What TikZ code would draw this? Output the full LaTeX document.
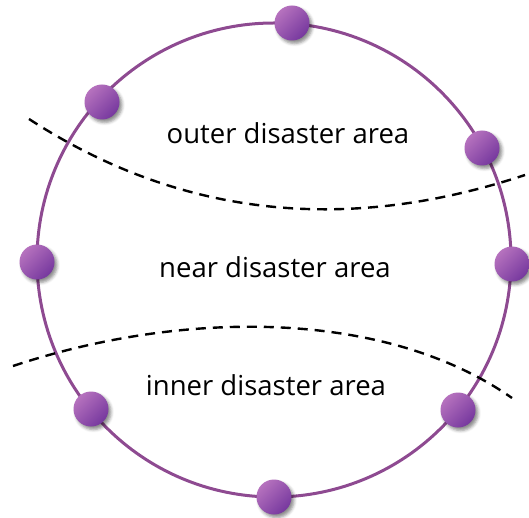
\documentclass[tikz,border=0pt]{standalone}
\usepackage{fontspec}
\setmainfont{Open Sans}
\usetikzlibrary{shadows.blur}
\definecolor{ring}{RGB}{142,74,145}
\definecolor{ballL}{RGB}{182,114,190}
\definecolor{ballD}{RGB}{118,56,158}
\tikzset{
  ringline/.style={draw=ring, line width=3pt},
  border/.style={black, line width=2.4pt, dash pattern=on 10pt off 7pt},
  ballnode/.style={circle, minimum size=35pt, inner sep=0pt, top color=ballL, bottom color=ballD, shading angle=45,
    blur shadow={shadow xshift=2.5pt, shadow yshift=-3pt, shadow blur radius=3pt, shadow opacity=45}},
  label/.style={font=\fontsize{27.5}{32}\selectfont, text=black}
}
\begin{document}
\begin{tikzpicture}[x=1pt,y=-1pt]
\useasboundingbox (0,0) rectangle (529,518);
\coordinate (c) at (274,260);
\draw[ringline] (c) circle[radius=237pt];
\coordinate (u0) at (29,119);
\coordinate (u1) at (525,175);
\coordinate (l0) at (13,366);
\coordinate (l1) at (512,398);
\draw[border] (u0) .. controls (195,227) and (365,228) .. (u1);
\draw[border] (l0) .. controls (178,311) and (382,307) .. (l1);
\node[ballnode] (b1) at (292,23) {};
\node[ballnode] (b2) at (102,102) {};
\node[ballnode] (b3) at (482,148) {};
\node[ballnode] (b4) at (37,262) {};
\node[ballnode] (b5) at (512,264) {};
\node[ballnode] (b6) at (91,409) {};
\node[ballnode] (b7) at (458,410) {};
\node[ballnode] (b8) at (274,497) {};
\node[label] (t1) at (288,133) {outer disaster area};
\node[label] (t2) at (275,267) {near disaster area};
\node[label] (t3) at (266,385) {inner disaster area};
\end{tikzpicture}
\end{document}
